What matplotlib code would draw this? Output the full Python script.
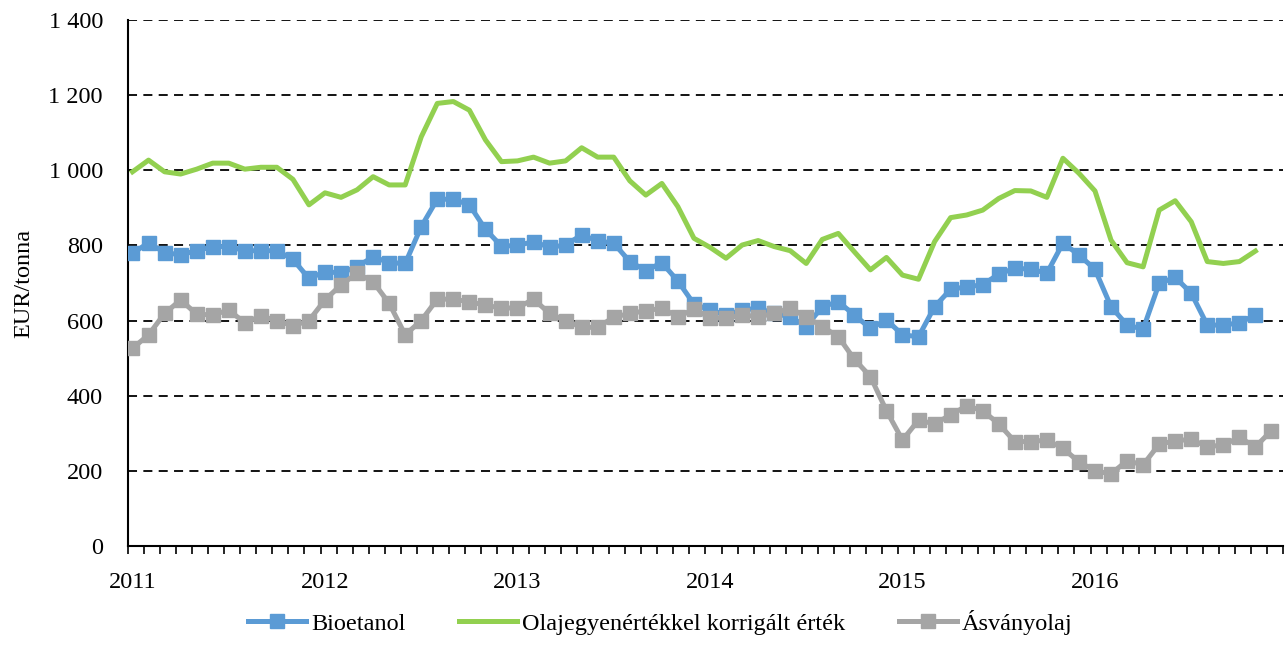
import numpy as np
import matplotlib
matplotlib.use('Agg')
import matplotlib.pyplot as plt
from matplotlib.ticker import FixedLocator, FuncFormatter

plt.rcParams['font.family'] = ['Liberation Serif', 'DejaVu Serif']

years = ['2011', '2012', '2013', '2014', '2015', '2016']

# monthly values, Jan 2011 onwards (EUR/tonna)
bioetanol = [779, 807, 781, 775, 786, 797, 797, 786, 786, 786, 763, 712,
             730, 727, 743, 770, 754, 752, 850, 923, 923, 908, 843, 798,
             800, 810, 795, 801, 828, 812, 806, 757, 733, 754, 705, 644,
             628, 615, 628, 633, 619, 610, 584, 637, 650, 615, 579, 602,
             562, 557, 637, 683, 690, 695, 724, 739, 737, 726, 806, 775,
             736, 637, 588, 577, 699, 715, 673, 588, 588, 594, 615]

korrigalt = [996, 1027, 996, 990, 1003, 1019, 1019, 1003, 1008, 1008, 976, 908,
             940, 928, 948, 983, 961, 961, 1089, 1178, 1183, 1160, 1081, 1023,
             1025, 1035, 1019, 1025, 1060, 1035, 1035, 972, 934, 965, 903, 819,
             795, 766, 801, 813, 797, 786, 752, 816, 832, 783, 735, 768,
             721, 710, 810, 874, 881, 894, 925, 946, 945, 928, 1032, 992,
             945, 814, 754, 743, 894, 919, 863, 757, 752, 757, 785]

asvanyolaj = [526, 562, 619, 655, 617, 615, 628, 594, 612, 600, 586, 600,
              655, 695, 726, 703, 646, 562, 600, 657, 657, 650, 641, 633,
              634, 657, 619, 600, 582, 582, 609, 619, 626, 633, 610, 630,
              608, 606, 615, 610, 619, 633, 610, 584, 557, 497, 451, 360,
              282, 335, 325, 349, 373, 360, 325, 278, 278, 282, 260, 224,
              200, 192, 227, 216, 271, 280, 284, 264, 269, 289, 264, 307]

fig = plt.figure(figsize=(12.87, 6.5), dpi=100)
ax = fig.add_axes([128 / 1287, 1 - 546 / 650, 1155 / 1287, 526 / 650])

ax.plot(np.arange(len(bioetanol)), bioetanol, color='#5B9BD5', lw=3.6,
        marker='s', markersize=9.5, label='Bioetanol', zorder=4)
ax.plot(np.arange(len(korrigalt)), korrigalt, color='#92D050', lw=3.6,
        label='Olajegyenértékkel korrigált érték', zorder=3)
ax.plot(np.arange(len(asvanyolaj)), asvanyolaj, color='#A5A5A5', lw=3.6,
        marker='s', markersize=9.5, label='Ásványolaj', zorder=5)

off = 0.28
ax.set_xlim(-off, 72 - off)
ax.set_ylim(0, 1400)

ax.set_xticks([12 * i for i in range(len(years))])
ax.set_xticklabels(years)
ax.xaxis.set_minor_locator(FixedLocator([k - off for k in range(73)]))
ax.tick_params(axis='x', which='major', length=0, pad=19, labelsize=17.5)
ax.tick_params(axis='x', which='minor', length=6, width=1.2, direction='out')

ax.set_yticks(range(0, 1401, 200))
ax.yaxis.set_major_formatter(FuncFormatter(lambda v, p: f'{int(v):,}'.replace(',', ' ')))
ax.tick_params(axis='y', length=0, pad=18, labelsize=17.5)

ax.grid(axis='y', color='black', linestyle=(0, (5, 3.5)), lw=1.3)
ax.set_axisbelow(True)
for s in ['top', 'right']:
    ax.spines[s].set_visible(False)
ax.spines['left'].set_linewidth(1.5)
ax.spines['bottom'].set_linewidth(1.5)

ax.set_ylabel('EUR/tonna', fontsize=17.5, labelpad=10)

fig.legend(loc='lower center', bbox_to_anchor=(0.513, -0.01), ncol=3,
           frameon=False, fontsize=17.5, handlelength=2.4, handletextpad=0.2,
           columnspacing=2.2)

fig.savefig('out.png', dpi=100)
